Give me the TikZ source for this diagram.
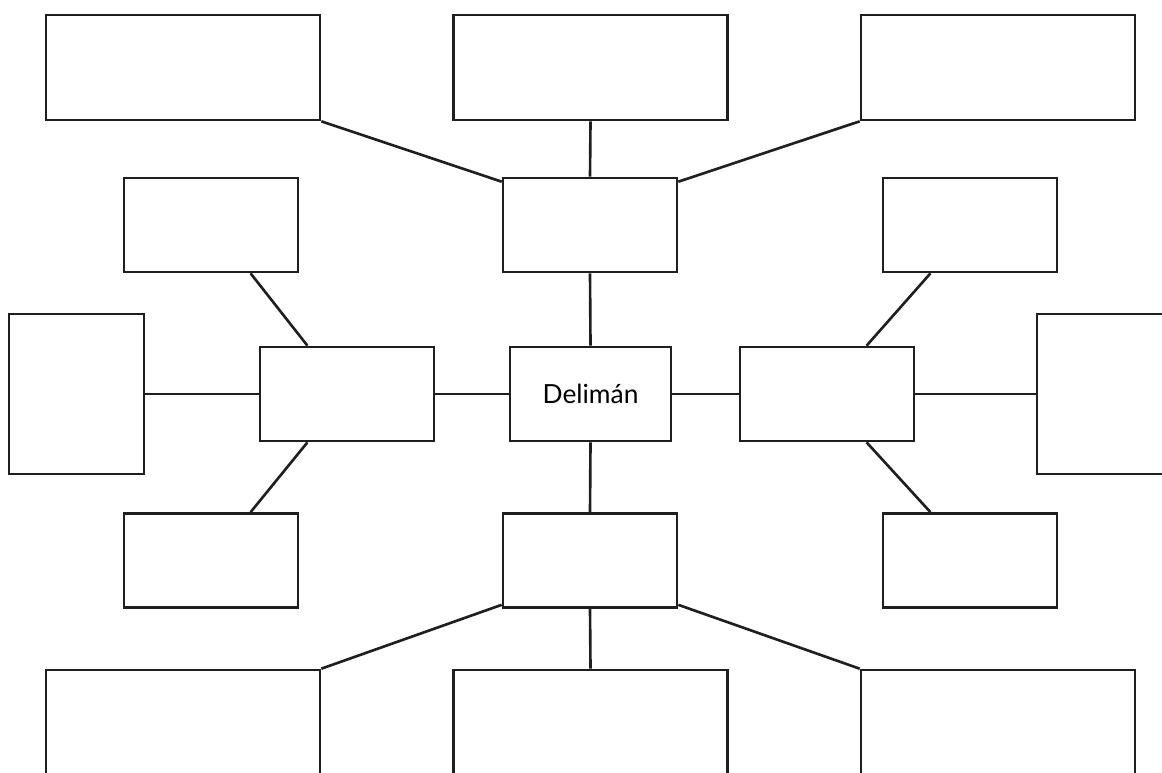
\documentclass[tikz,border=0pt]{standalone}
\usepackage{fontspec}
\setmainfont{Lato}
\usetikzlibrary{calc}
\begin{document}
\begin{tikzpicture}[x=0.02cm,y=-0.02cm,
  box/.style={draw=black!88,line width=1.5pt,rectangle,inner sep=0pt},
  big/.style={box,minimum width=274*0.02cm,minimum height=105*0.02cm},
  mid/.style={box,minimum width=174*0.02cm,minimum height=94*0.02cm},
  tall/.style={box,minimum width=135*0.02cm,minimum height=160*0.02cm},
  link/.style={draw=black!88,line width=1.5pt}]
\useasboundingbox (0,0) rectangle (1162,772);
\clip (0,0) rectangle (1162,772);
% big boxes
\node[big] (tl) at (183,67.5) {};
\node[big] (tc) at (590.5,67.5) {};
\node[big] (tr) at (998,67.5) {};
\node[big] (bl) at (183,722.5) {};
\node[big] (bc) at (590.5,722.5) {};
\node[big] (br) at (998,722.5) {};
% middle row / column boxes
\node[mid] (uc) at (590,225) {};
\node[mid] (lc) at (590,560.5) {};
\node[mid] (lst) at (211,225) {};
\node[mid] (lsb) at (211,560.5) {};
\node[mid] (rst) at (970,225) {};
\node[mid] (rsb) at (970,560.5) {};
\node[mid] (lm) at (347,394) {};
\node[mid] (rm) at (827,394) {};
\node[box,minimum width=161*0.02cm,minimum height=94*0.02cm,font=\fontsize{15}{18}\selectfont] (c) at (590.5,394) {Delimán};
\node[tall] (lt) at (76.5,394) {};
\node[tall] (rt) at (1104.5,394) {};
% connectors
\draw[link] (tl.south east) -- ($(uc.north west)+(0,5)$);
\draw[link] (tr.south west) -- ($(uc.north east)+(0,5)$);
\draw[link] (tc.south) -- (uc.north);
\draw[link] (uc.south) -- (c.north);
\draw[link] (c.south) -- (lc.north);
\draw[link] (lc.south) -- (bc.north);
\draw[link] ($(lc.south west)+(0,-4)$) -- (bl.north east);
\draw[link] ($(lc.south east)+(0,-4)$) -- (br.north west);
\draw[link] (lt.east) -- (lm.west);
\draw[link] (lm.east) -- (c.west);
\draw[link] (c.east) -- (rm.west);
\draw[link] (rm.east) -- (rt.west);
\draw[link] ($(lst.south west)!0.724!(lst.south east)$) -- ($(lm.north west)!0.276!(lm.north east)$);
\draw[link] ($(lsb.north west)!0.724!(lsb.north east)$) -- ($(lm.south west)!0.276!(lm.south east)$);
\draw[link] ($(rst.south east)!0.724!(rst.south west)$) -- ($(rm.north east)!0.276!(rm.north west)$);
\draw[link] ($(rsb.north east)!0.724!(rsb.north west)$) -- ($(rm.south east)!0.276!(rm.south west)$);
\end{tikzpicture}
\end{document}
